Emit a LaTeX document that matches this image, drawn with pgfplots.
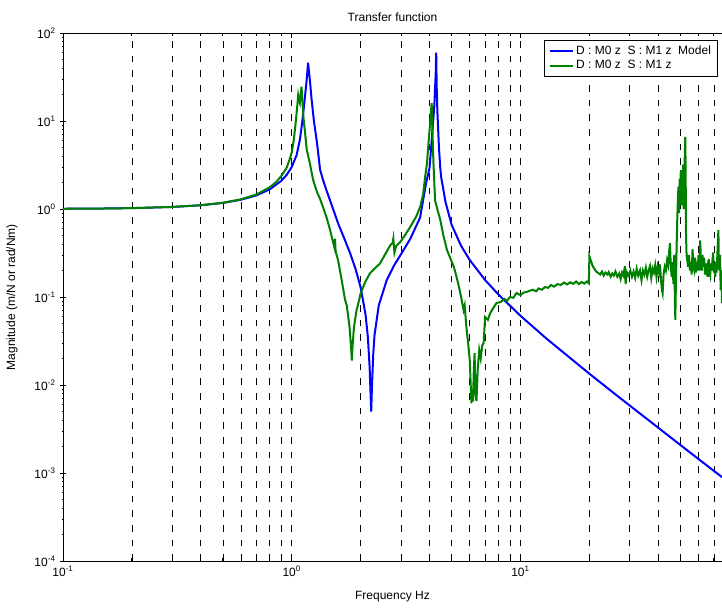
\documentclass[border=0pt]{standalone}
\usepackage{fontspec}
\setmainfont{Liberation Sans}
\usepackage{pgfplots}
\pgfplotsset{compat=1.18}
\definecolor{mblue}{RGB}{0,0,255}
\definecolor{mgreen}{RGB}{0,128,0}
\begin{document}
\begin{tikzpicture}[font=\fontsize{9}{11}\selectfont]
\begin{axis}[
  xmode=log, ymode=log,
  scale only axis, width=494.25pt, height=396pt,
  xmin=0.1, xmax=76, ymin=1e-4, ymax=100,
  axis x line=box, axis y line=left,
  axis line style={-, line width=0.7pt},
  xtick={0.1,1,10},
  xticklabels={10\textsuperscript{-1},10\textsuperscript{0},10\textsuperscript{1}},
  minor xtick={0.2,0.3,0.4,0.5,0.6,0.7,0.8,0.9,2,3,4,5,6,7,8,9,20,30,40,50,60,70},
  ytick={1e-4,1e-3,1e-2,1e-1,1,10,100},
  yticklabels={10\textsuperscript{-4},10\textsuperscript{-3},10\textsuperscript{-2},10\textsuperscript{-1},10\textsuperscript{0},10\textsuperscript{1},10\textsuperscript{2}},
  minor ytick={2e-4,3e-4,4e-4,5e-4,6e-4,7e-4,8e-4,9e-4,
               2e-3,3e-3,4e-3,5e-3,6e-3,7e-3,8e-3,9e-3,
               0.02,0.03,0.04,0.05,0.06,0.07,0.08,0.09,
               0.2,0.3,0.4,0.5,0.6,0.7,0.8,0.9,
               2,3,4,5,6,7,8,9,20,30,40,50,60,70,80,90},
  major tick length=4pt, minor tick length=2pt,
  tick style={black, line width=0.6pt},
  xmajorgrids, xminorgrids,
  major grid style={black, dash pattern=on 5pt off 6pt, line width=0.5pt},
  minor grid style={black, dash pattern=on 5pt off 6pt, line width=0.5pt},
  tick label style={font=\fontsize{9}{11}\selectfont},
  title={Transfer function},
  title style={at={(axis description cs:0.5,1)}, anchor=center, yshift=6pt, font=\fontsize{9}{11}\selectfont},
  xlabel={Frequency Hz},
  xlabel style={at={(axis description cs:0.5,0)}, anchor=center, yshift=-26.5pt, font=\fontsize{9}{11}\selectfont},
  ylabel={Magnitude (m/N or rad/Nm)},
  ylabel style={at={(axis description cs:0,0.5)}, anchor=center, rotate=0, yshift=38.25pt, font=\fontsize{9}{11}\selectfont},
  legend style={at={(axis description cs:1,1)}, anchor=north east, xshift=-3pt, yshift=-5.25pt,
    draw=black, line width=0.6pt, fill=white, font=\fontsize{9}{11}\selectfont, row sep=-1pt},
  legend cell align=left,
]
\addplot[mblue, line width=1.5pt] coordinates {
(0.1,1.006) (0.15,1.013) (0.2,1.0235) (0.3,1.055) (0.4,1.103) (0.5,1.173) (0.6,1.275)
(0.7,1.428) (0.8,1.669) (0.9,2.09) (0.95,2.44) (1.0,3.0) (1.05,4.1) (1.085,6.1) (1.11,9.5)
(1.14,18) (1.16,28) (1.17,36) (1.178,46) (1.19,36) (1.205,26) (1.22,18) (1.25,10)
(1.29,5.6) (1.33,2.8) (1.37,2.14) (1.4,1.8) (1.5,1.08) (1.6,0.67) (1.7,0.457)
(1.8,0.314) (1.9,0.209) (2.0,0.129) (2.1,0.064) (2.15,0.0358) (2.19,0.016) (2.21,0.008)
(2.225,0.005) (2.24,0.009) (2.27,0.022) (2.3,0.0368) (2.4,0.08) (2.6,0.155) (2.8,0.228)
(3.0,0.305) (3.3,0.46) (3.64,0.8) (3.87,2.0) (4.0,2.9) (4.09,6) (4.2,15) (4.26,35)
(4.28,60) (4.3,25) (4.33,13) (4.4,5) (4.46,2.9) (4.5,2.3) (4.7,1.2) (5.0,0.66)
(5.5,0.381) (6,0.263) (7,0.156) (8,0.107) (10,0.0611) (13,0.0336) (16,0.0216)
(20,0.01344) (25,0.00848) (30,0.00585) (40,0.00327) (50,0.00208) (60,0.00144) (76,0.000898)
};
\addlegendentry{D : M0 z\ \ S : M1 z\ \ Model}
\addplot[mgreen, line width=1.5pt] coordinates {
(0.1,1.006) (0.15,1.013) (0.2,1.023) (0.3,1.055) (0.4,1.104) (0.5,1.177) (0.6,1.288)
(0.7,1.462) (0.8,1.76) (0.85,2.0) (0.9,2.37) (0.95,2.95) (0.98,3.7) (1.0,4.4) (1.02,6.0)
(1.04,9.5) (1.055,14) (1.067,19.7) (1.078,17) (1.085,16) (1.093,20) (1.103,24.5)
(1.112,18) (1.125,11) (1.14,7.9) (1.163,4.7) (1.2,3.3) (1.24,2.14) (1.29,1.55)
(1.33,1.3) (1.37,1.05) (1.42,0.8) (1.47,0.58) (1.52,0.41) (1.535,0.37) (1.546,0.46)
(1.555,0.33) (1.594,0.263) (1.65,0.16) (1.71,0.093) (1.74,0.08) (1.79,0.045) (1.82,0.025)
(1.83,0.019) (1.845,0.028) (1.87,0.045) (1.92,0.071) (1.97,0.092) (2.0,0.11) (2.1,0.15)
(2.2,0.187) (2.3,0.21) (2.43,0.24) (2.55,0.3) (2.7,0.39) (2.76,0.41) (2.78,0.46)
(2.81,0.32) (2.86,0.38) (2.98,0.42) (3.15,0.52) (3.3,0.63) (3.5,0.82) (3.64,1.05)
(3.75,1.45) (3.83,2.33) (3.9,3.3) (3.96,5.6) (4.02,9) (4.06,13) (4.09,15.9) (4.12,8)
(4.16,3.5) (4.23,1.26) (4.35,0.95) (4.46,0.75) (4.6,0.5) (4.77,0.342) (4.95,0.27)
(5.11,0.221) (5.25,0.17) (5.38,0.131) (5.5,0.1) (5.64,0.071) (5.7,0.08) (5.8,0.045)
(5.9,0.03) (6.0,0.019) (6.05,0.011) (6.1,0.0062) (6.15,0.009) (6.2,0.0065) (6.25,0.015)
(6.3,0.023) (6.35,0.008) (6.42,0.0066) (6.5,0.015) (6.6,0.025) (6.7,0.02) (6.8,0.028)
(6.9,0.03) (7.0,0.059) (7.2,0.055) (7.36,0.065) (7.6,0.075) (7.86,0.0855) (8.2,0.088)
(8.5,0.095) (8.7,0.09) (9.0,0.1) (9.3,0.098) (9.6,0.111) (10,0.105) (10.3,0.112)
(10.7,0.115) (11.0,0.118) (11.3,0.121) (11.7,0.116) (12.0,0.125) (12.4,0.121) (12.8,0.13)
(13.2,0.127) (13.6,0.137) (14.0,0.131) (14.5,0.14) (15,0.137) (15.5,0.146) (16,0.139)
(16.5,0.147) (17,0.141) (17.5,0.15) (18,0.14) (18.5,0.148) (19,0.142) (19.5,0.15)
(19.9,0.143) (20,0.29) (20.3,0.26) (20.6,0.23) (21,0.21) (21.4,0.195) (21.9,0.187)
(22.3,0.18) (22.7,0.195) (23.1,0.175) (23.5,0.19) (24.0,0.18) (24.3,0.192) (24.8,0.17)
(25.2,0.185) (25.6,0.175) (26.0,0.195) (26.5,0.17) (27.0,0.185) (27.4,0.16) (27.8,0.19)
(28.2,0.175) (28.6,0.225) (28.8,0.14) (29.2,0.19) (29.7,0.175) (30.2,0.2) (30.7,0.17)
(31.2,0.195) (31.7,0.165) (32.2,0.21) (32.7,0.175) (33.3,0.2) (33.8,0.155) (34.3,0.2)
(34.8,0.18) (35.3,0.215) (35.8,0.17) (36.3,0.2) (36.8,0.225) (37.3,0.165) (37.8,0.21)
(38.3,0.19) (38.8,0.23) (39.3,0.17) (39.8,0.22) (40.3,0.19) (40.7,0.235) (41.1,0.16)
(41.5,0.12) (41.8,0.11) (42.2,0.18) (42.7,0.22) (43.2,0.2) (43.7,0.26) (44.2,0.23)
(44.6,0.32) (45.0,0.41) (45.4,0.22) (45.8,0.17) (46.2,0.25) (46.6,0.14) (47.0,0.3)
(47.3,0.09) (47.5,0.055) (47.8,0.15) (48.1,0.35) (48.4,0.7) (48.7,1.2) (49.0,1.78)
(49.3,0.9) (49.6,2.2) (49.9,1.3) (50.2,2.77) (50.5,1.1) (50.8,2.5) (51.1,1.6) (51.4,3.2)
(51.7,1.0) (52.0,2.4) (52.3,4.5) (52.5,6.6) (52.7,3.0) (52.9,0.5) (53.2,0.3) (53.6,0.26)
(54.0,0.22) (54.5,0.3) (55.0,0.2) (55.5,0.25) (56.0,0.18) (56.5,0.35) (57.0,0.22)
(57.5,0.2) (58.0,0.28) (58.5,0.19) (59.0,0.25) (59.5,0.2) (60.0,0.3) (60.5,0.2)
(61.0,0.44) (61.5,0.26) (62.0,0.2) (62.5,0.3) (63.0,0.22) (63.5,0.28) (64.0,0.18)
(64.5,0.24) (65.0,0.2) (65.5,0.22) (66.0,0.17) (66.5,0.27) (67.0,0.2) (67.5,0.18)
(68.0,0.24) (68.5,0.2) (69.0,0.26) (69.5,0.32) (70.0,0.19) (70.5,0.22) (71.0,0.17)
(71.5,0.25) (72.0,0.19) (72.5,0.3) (73.0,0.45) (73.3,0.576) (73.6,0.25) (74.0,0.2)
(74.5,0.3) (75.0,0.12) (75.5,0.2) (76.0,0.085)
};
\addlegendentry{D : M0 z\ \ S : M1 z}
\coordinate (sw) at (rel axis cs:0,0);
\coordinate (ne) at (rel axis cs:1,1);
\end{axis}
\pgfresetboundingbox
\path ([shift={(-47.25pt,-35.25pt)}]sw) rectangle ([shift={(0pt,24.75pt)}]ne);
\end{tikzpicture}
\end{document}
